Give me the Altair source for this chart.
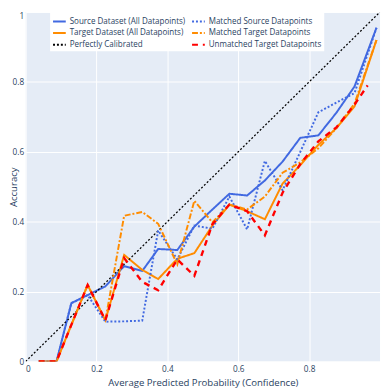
import altair as alt
import pandas as pd

# bin centres (mean confidence)
X = [0.037, 0.087, 0.129, 0.175, 0.225, 0.278, 0.329, 0.374, 0.428, 0.476,
     0.527, 0.575, 0.625, 0.675, 0.725, 0.775, 0.826, 0.877, 0.928, 0.99]
X_UNMATCHED = [0.037, 0.087, 0.129, 0.175, 0.225, 0.278, 0.329, 0.374, 0.428, 0.476,
               0.527, 0.575, 0.625, 0.675, 0.725, 0.775, 0.826, 0.877, 0.928, 0.965]
X_DIAG = [0.0, 1.0]

source_all = [0, 0, 0.167, 0.19, 0.215, 0.273, 0.259, 0.322, 0.319, 0.386,
              0.435, 0.48, 0.475, 0.518, 0.572, 0.64, 0.647, 0.712, 0.787, 0.955]
target_all = [0, 0, 0.105, 0.219, 0.118, 0.305, 0.262, 0.236, 0.294, 0.31,
              0.389, 0.449, 0.43, 0.407, 0.509, 0.562, 0.62, 0.668, 0.73, 0.92]
diag = [0.0, 1.0]
matched_source = [0, 0, 0.167, 0.19, 0.114, 0.115, 0.117, 0.375, 0.292, 0.389,
                  0.38, 0.472, 0.378, 0.574, 0.49, 0.60, 0.713, 0.741, 0.768, 0.955]
matched_target = [0, 0, 0.105, 0.219, 0.118, 0.417, 0.428, 0.394, 0.278, 0.46,
                  0.398, 0.449, 0.435, 0.472, 0.54, 0.57, 0.61, 0.668, 0.738, 0.92]
unmatched_target = [0, 0, 0.105, 0.219, 0.118, 0.296, 0.228, 0.204, 0.292, 0.245,
                    0.393, 0.449, 0.43, 0.361, 0.483, 0.565, 0.63, 0.67, 0.735, 0.79]

S1 = "Source Dataset (All Datapoints)"
S2 = "Target Dataset (All Datapoints)"
S3 = "Perfectly Calibrated"
S4 = "Matched Source Datapoints"
S5 = "Matched Target Datapoints"
S6 = "Unmatched Target Datapoints"

trace_order = [S1, S2, S3, S4, S5, S6]
series_data = {
    S1: (X, source_all),
    S2: (X, target_all),
    S3: (X_DIAG, diag),
    S4: (X, matched_source),
    S5: (X, matched_target),
    S6: (X_UNMATCHED, unmatched_target),
}
rows = []
for s in trace_order:
    xs, ys = series_data[s]
    for xv, yv in zip(xs, ys):
        rows.append({"series": s, "x": xv, "y": yv})
df = pd.DataFrame(rows)

# legend fills column by column
legend_order = trace_order
colors = {S1: "#4169E1", S2: "#FF8C00", S3: "#000000",
          S4: "#4169E1", S5: "#FF8C00", S6: "#FF0000"}
dashes = {S1: [1, 0], S2: [1, 0], S3: [2, 2],
          S4: [2, 2], S5: [6, 2, 2, 2], S6: [6, 5]}
widths = {S1: 2, S2: 2, S3: 1.3, S4: 2, S5: 2, S6: 2.4}

FONT = "Open Sans"
TXT = "#2a3f5f"

legend = alt.Legend(
    title=None, orient="none", legendX=25, legendY=0, columns=2,
    symbolType="stroke", symbolSize=169, symbolStrokeWidth=2,
    labelFont=FONT, labelFontSize=8.2, labelColor=TXT, labelLimit=0,
    labelOffset=3, fillColor="white", padding=2, rowPadding=0, columnPadding=3,
)

base = alt.Chart(df).encode(
    x=alt.X("x:Q", scale=alt.Scale(domain=[0, 1], nice=False, zero=False),
            axis=alt.Axis(title="Average Predicted Probability (Confidence)",
                          values=[0, 0.2, 0.4, 0.6, 0.8], format="~g",
                          labelPadding=3, titlePadding=5)),
    y=alt.Y("y:Q", scale=alt.Scale(domain=[0, 1], nice=False),
            axis=alt.Axis(title="Accuracy", values=[0, 0.2, 0.4, 0.6, 0.8, 1], format="~g",
                          labelPadding=2, titleX=-7, titleY=178.5,
                          titleBaseline="bottom", titleAlign="center",
                          labelBaseline={"condition": {"test": "datum.value == 1", "value": "top"},
                                         "value": "middle"})),
    color=alt.Color("series:N", scale=alt.Scale(domain=legend_order,
                                                 range=[colors[s] for s in legend_order]),
                    legend=legend),
    strokeDash=alt.StrokeDash("series:N", scale=alt.Scale(domain=legend_order,
                                                          range=[dashes[s] for s in legend_order]),
                              legend=legend),
    order=alt.Order("x:Q"),
)

layers = [base.transform_filter(alt.datum.series == s).mark_line(strokeWidth=widths[s], clip=True)
          for s in trace_order]

chart = alt.layer(*layers).properties(
    width=362, height=357,
    autosize=alt.AutoSizeParams(type="none"),
    padding={"left": 18, "top": 0, "right": 2, "bottom": 25},
).configure_view(fill="#E5ECF6", stroke=None).configure_axis(
    gridColor="white", gridWidth=1, domain=False, ticks=False,
    labelFont=FONT, labelFontSize=8.4, labelColor=TXT,
    titleFont=FONT, titleFontSize=9.8, titleColor=TXT, titleFontWeight="normal",
)

chart.save("out.html", embed_options={"renderer": "svg", "actions": False})
